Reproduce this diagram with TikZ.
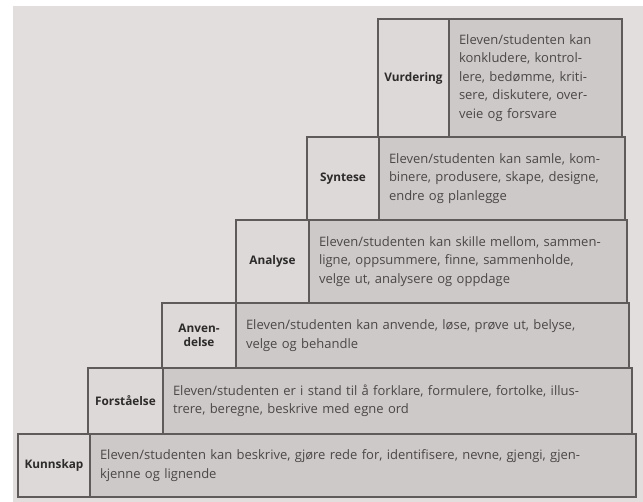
\documentclass[tikz,border=0pt]{standalone}
\usepackage{fontspec}
\setmainfont{Open Sans}
\usetikzlibrary{positioning}
\definecolor{PaperGrey}{HTML}{E2DEDD}
\definecolor{CellGrey}{HTML}{CDC9C8}
\definecolor{LabelGrey}{HTML}{DDD9D8}
\definecolor{LineGrey}{HTML}{5F5B5A}
\definecolor{InkGrey}{HTML}{4A4747}
\definecolor{InkDark}{HTML}{2C2A2A}
\tikzset{
  levelbox/.style={rectangle, draw=LineGrey, line width=1.1pt, fill=LabelGrey, anchor=north west, inner sep=0pt, outer sep=0pt, font=\fontsize{11.8}{14}\selectfont\bfseries, text=InkDark, align=center},
  descbox/.style={rectangle, draw=LineGrey, line width=1.1pt, fill=CellGrey, inner xsep=10pt, inner ysep=0pt, outer sep=0pt, font=\fontsize{13}{18.5}\selectfont, text=InkGrey, align=left}
}

\begin{document}
\begin{tikzpicture}[x=1pt, y=-1pt]
  \useasboundingbox (0,0) rectangle (643,502);
  \fill[white] (0,0) rectangle (643,502);
  \fill[PaperGrey] (13,6) rectangle (643,502);

  % Vurdering
  \node[levelbox, minimum width=71pt, minimum height=118pt] (vurd) at (378,19) {Vurdering};
  \node[descbox, minimum width=173pt, minimum height=118pt, text width=153pt, right=0pt of vurd] (vurdtext) {Eleven/studenten kan\\konkludere, kontrol-\\lere, bedømme, kriti-\\sere, diskutere, over-\\veie og forsvare};

  % Syntese
  \node[levelbox, minimum width=72pt, minimum height=83pt] (synt) at (307,137) {Syntese};
  \node[descbox, minimum width=246pt, minimum height=83pt, text width=226pt, right=0pt of synt] (synttext) {Eleven/studenten kan samle, kom-\\binere, produsere, skape, designe,\\endre og planlegge};

  % Analyse
  \node[levelbox, minimum width=73pt, minimum height=83pt] (anal) at (236,220) {Analyse};
  \node[descbox, minimum width=318pt, minimum height=83pt, text width=298pt, right=0pt of anal] (analtext) {Eleven/studenten kan skille mellom, sammen-\\ligne, oppsummere, finne, sammenholde,\\velge ut, analysere og oppdage};

  % Anvendelse
  \node[levelbox, minimum width=74pt, minimum height=65pt] (anve) at (162,303) {Anven-\\delse};
  \node[descbox, minimum width=393pt, minimum height=65pt, text width=373pt, right=0pt of anve] (anvetext) {Eleven/studenten kan anvende, løse, prøve ut, belyse,\\velge og behandle};

  % Forstaaelse
  \node[levelbox, minimum width=75pt, minimum height=66pt] (fors) at (88,368) {Forståelse};
  \node[descbox, minimum width=469pt, minimum height=66pt, text width=449pt, right=0pt of fors] (forstext) {Eleven/studenten er i stand til å forklare, formulere, fortolke, illus-\\trere, beregne, beskrive med egne ord};

  % Kunnskap
  \node[levelbox, minimum width=72pt, minimum height=63pt] (kunn) at (18,434) {Kunnskap};
  \node[descbox, minimum width=546pt, minimum height=63pt, text width=526pt, right=0pt of kunn] (kunntext) {Eleven/studenten kan beskrive, gjøre rede for, identifisere, nevne, gjengi, gjen-\\kjenne og lignende};
\end{tikzpicture}
\end{document}
